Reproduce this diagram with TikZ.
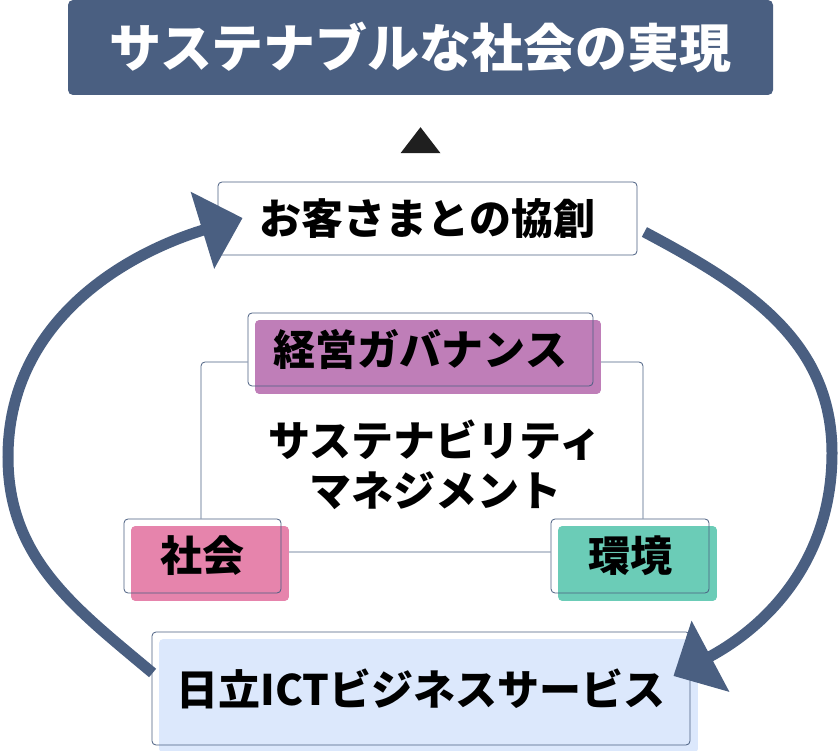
\documentclass[tikz,border=0pt]{standalone}
\usepackage{fontspec}
\setmainfont{Noto Sans CJK JP}
\usetikzlibrary{arrows.meta,backgrounds}
\definecolor{slateblue}{RGB}{74,95,129}
\definecolor{govpurple}{RGB}{191,126,184}
\definecolor{socpink}{RGB}{230,132,172}
\definecolor{envteal}{RGB}{107,204,183}
\definecolor{ictblue}{RGB}{220,232,252}
\tikzstyle{block} = [rectangle, draw=slateblue, line width=0.8pt, rounded corners=4pt,
    inner sep=0pt, font=\fontsize{42}{50}\selectfont\bfseries]
\tikzstyle{headblock} = [rectangle, fill=slateblue, rounded corners=5pt, text=white,
    font=\fontsize{52}{60}\selectfont\bfseries, minimum width=705pt, minimum height=95pt]
\tikzstyle{cyclearrow} = [color=slateblue, line width=11pt, -{Triangle[length=42pt,width=78pt]}]
\tikzstyle{line} = [draw=slateblue, line width=0.8pt]

\begin{document}
\begin{tikzpicture}[x=1pt,y=1pt]
      \useasboundingbox (0,0) rectangle (840,750);
      \node[headblock] (goal) at (420.5,702.5) {サステナブルな社会の実現};
      \fill[black!88] ([shift={(-20,-58)}]goal.south) -- ++(40,0) -- ++(-20,26) -- cycle;
      \node[block, fill=white, minimum width=419pt, minimum height=73pt] (cocreate) at (427.5,531.5) {お客さまとの協創};
      \node[block, minimum width=345pt, minimum height=73pt] (gov) at (420.5,400.5) {経営ガバナンス};
      \node[block, minimum width=157pt, minimum height=74pt] (soc) at (202.5,194) {社会};
      \node[block, minimum width=158pt, minimum height=74pt] (env) at (630,194) {環境};
      \node[block, minimum width=538pt, minimum height=113pt] (ict) at (421,61.5) {日立ICTビジネスサービス};
      \node[font=\fontsize{42}{50}\selectfont\bfseries, align=center] (susmgmt) at (435,285) {サステナビリティ\\マネジメント};
      \begin{scope}[on background layer]
        \draw[line, rounded corners=4pt] (201,198) rectangle (643,388);
        \foreach \n/\c in {gov/govpurple,soc/socpink,env/envteal,ict/ictblue}{
          \fill[white, rounded corners=4pt] (\n.south west) rectangle (\n.north east);
          \fill[\c, rounded corners=4pt] ([shift={(7.5,-7.5)}]\n.south west) rectangle ([shift={(7.5,-7.5)}]\n.north east);
        }
      \end{scope}
      \coordinate (leftbend) at (8,293);
      \coordinate (rightbend) at (832,297);
      \draw[cyclearrow] ([shift={(1,15.5)}]ict.west) to[out=140,in=-90] (leftbend)
        to[out=90,in=197] ([shift={(25,0.5)}]cocreate.west);
      \draw[cyclearrow] ([shift={(7,-13.5)}]cocreate.east) to[out=-28,in=90] (rightbend)
        to[out=-90,in=28] ([shift={(-17,12.5)}]ict.east);
    \end{tikzpicture}
\end{document}
